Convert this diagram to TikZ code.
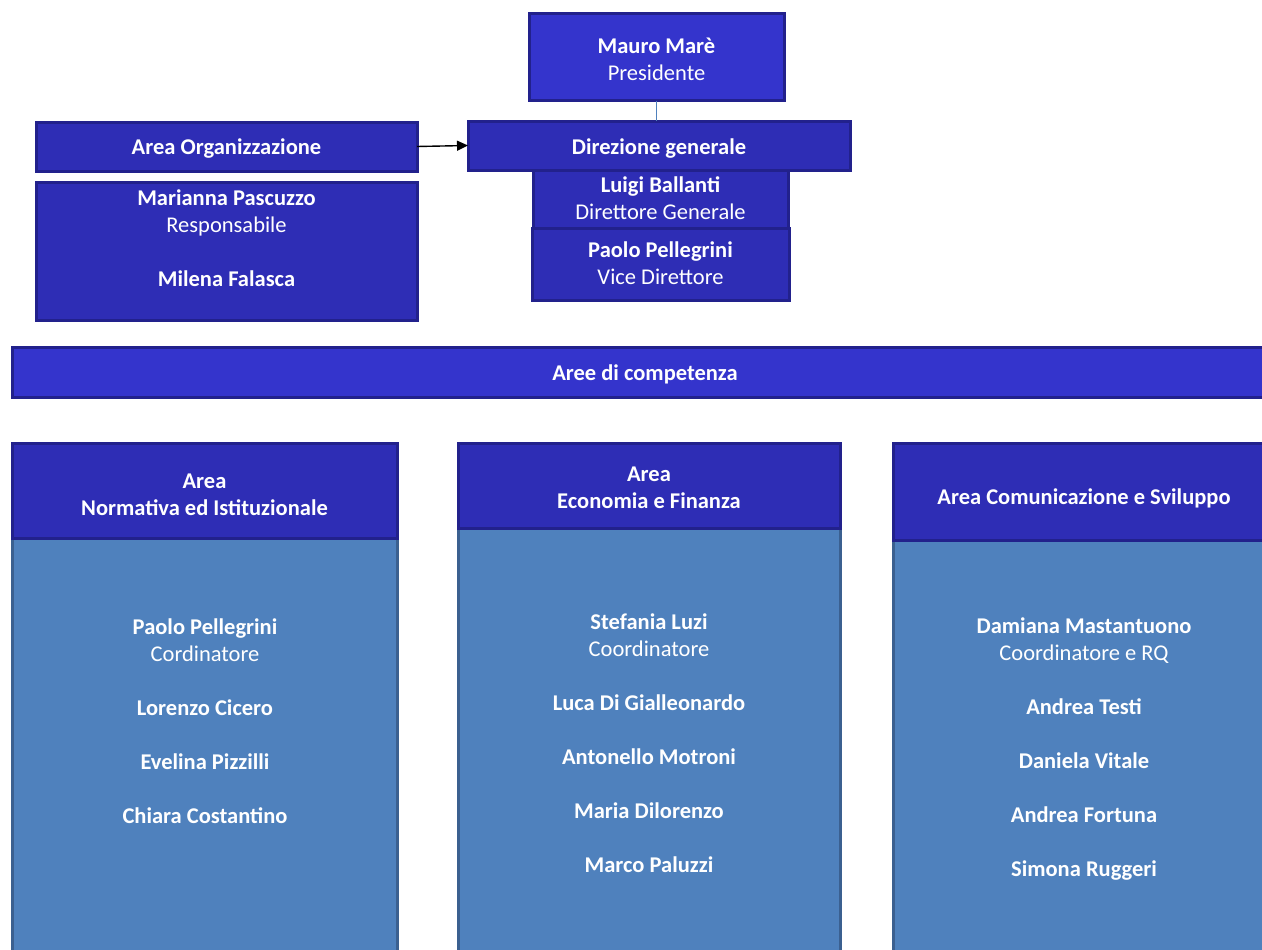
\documentclass[tikz,border=0pt]{standalone}
\usepackage{fontspec}
\setmainfont{Carlito}
\usetikzlibrary{arrows.meta}
\definecolor{bright}{HTML}{3434CC}
\definecolor{dark}{HTML}{2E2DB5}
\definecolor{edge}{HTML}{22218C}
\definecolor{steel}{HTML}{4F81BD}
\definecolor{steeledge}{HTML}{3B6090}
\definecolor{linkblue}{HTML}{4F81BD}
\begin{document}
\begin{tikzpicture}[x=1pt,y=-1pt,
  box/.style={draw=edge, line width=3pt, fill=dark, inner sep=0pt, outer sep=0pt},
  brightbox/.style={box, fill=bright},
  body/.style={draw=steeledge, line width=3pt, fill=steel, inner sep=0pt, outer sep=0pt},
  txt/.style={text=white, align=center, inner sep=0pt, font=\fontsize{22.5}{27}\selectfont},
  bodytext/.style={txt, anchor=north},
  link/.style={draw=linkblue, line width=1pt},
  arrowlink/.style={draw=black, line width=1.4pt, -{Triangle[length=11pt,width=10pt]}}]
\useasboundingbox (0,0) rectangle (1262,950);
\clip (0,0) rectangle (1262,950);
\fill[white] (0,0) rectangle (1262,950);

% top part
\node[brightbox, minimum width=255pt, minimum height=87pt] (mauro) at (656.5,57.5) {};
\node[box, minimum width=257pt, minimum height=72pt] (paolo) at (660.5,264) {};
\node[box, minimum width=255pt, minimum height=58pt] (luigi) at (660.5,199) {};
\node[box, minimum width=382pt, minimum height=49pt] (dir) at (659,145.5) {};
\node[box, minimum width=381pt, minimum height=49pt] (org) at (226.5,146.5) {};
\node[box, minimum width=381pt, minimum height=138pt] (mar) at (226.5,251) {};

\node[txt, yshift=-1.5pt] (maurot) at (mauro) {\textbf{Mauro Marè}\\Presidente};
\node[txt, yshift=1pt] (paolot) at (paolo) {\textbf{Paolo Pellegrini}\\Vice Direttore};
\node[txt, yshift=0.5pt] (luigit) at (luigi) {\textbf{Luigi Ballanti}\\Direttore Generale};
\node[txt, yshift=-3pt] (dirt) at (dir) {\textbf{Direzione generale}};
\node[txt, yshift=-2pt] (orgt) at (org) {\textbf{Area Organizzazione}};
\node[txt, anchor=north] (mart) at ([yshift=-8pt]mar.north)
  {\textbf{Marianna Pascuzzo}\\Responsabile\\[27pt]\textbf{Milena Falasca}};

\draw[link] (mauro.south) -- (mauro.south |- dir.north);
\draw[arrowlink] (org.east) -- (dir.west);

% aree di competenza
\node[brightbox, minimum width=1263pt, minimum height=50pt] (aree) at (643.5,372) {};
\node[txt, yshift=-2pt] (areet) at (645,372) {\textbf{Aree di competenza}};

% columns
\node[body, minimum width=385pt, minimum height=422pt] (b1) at (204.5,749) {};
\node[box, minimum width=385pt, minimum height=95pt] (h1) at (204.5,490.5) {};
\node[body, minimum width=382pt, minimum height=432pt] (b2) at (649,744) {};
\node[box, minimum width=382pt, minimum height=85pt] (h2) at (649,485.5) {};
\node[body, minimum width=382pt, minimum height=420pt] (b3) at (1084,750) {};
\node[box, minimum width=382pt, minimum height=97pt] (h3) at (1084,491.5) {};

\node[txt, yshift=-4pt] (h1t) at (h1) {\textbf{Area}\\\textbf{Normativa ed Istituzionale}};
\node[txt, yshift=-2pt] (h2t) at (h2) {\textbf{Area}\\\textbf{Economia e Finanza}};
\node[txt, yshift=-7pt] (h3t) at (h3) {\textbf{Area Comunicazione e Sviluppo}};

\node[bodytext] (t1) at (205,618.5)
  {\textbf{Paolo Pellegrini}\\Cordinatore\\[27pt]\textbf{Lorenzo Cicero}\\[27pt]\textbf{Evelina Pizzilli}\\[27pt]\textbf{Chiara Costantino}};
\node[bodytext] (t2) at (649,614)
  {\textbf{Stefania Luzi}\\Coordinatore\\[27pt]\textbf{Luca Di Gialleonardo}\\[27pt]\textbf{Antonello Motroni}\\[27pt]\textbf{Maria Dilorenzo}\\[27pt]\textbf{Marco Paluzzi}};
\node[bodytext] (t3) at (1084,618)
  {\textbf{Damiana Mastantuono}\\Coordinatore e RQ\\[27pt]\textbf{Andrea Testi}\\[27pt]\textbf{Daniela Vitale}\\[27pt]\textbf{Andrea Fortuna}\\[27pt]\textbf{Simona Ruggeri}};
\end{tikzpicture}
\end{document}
